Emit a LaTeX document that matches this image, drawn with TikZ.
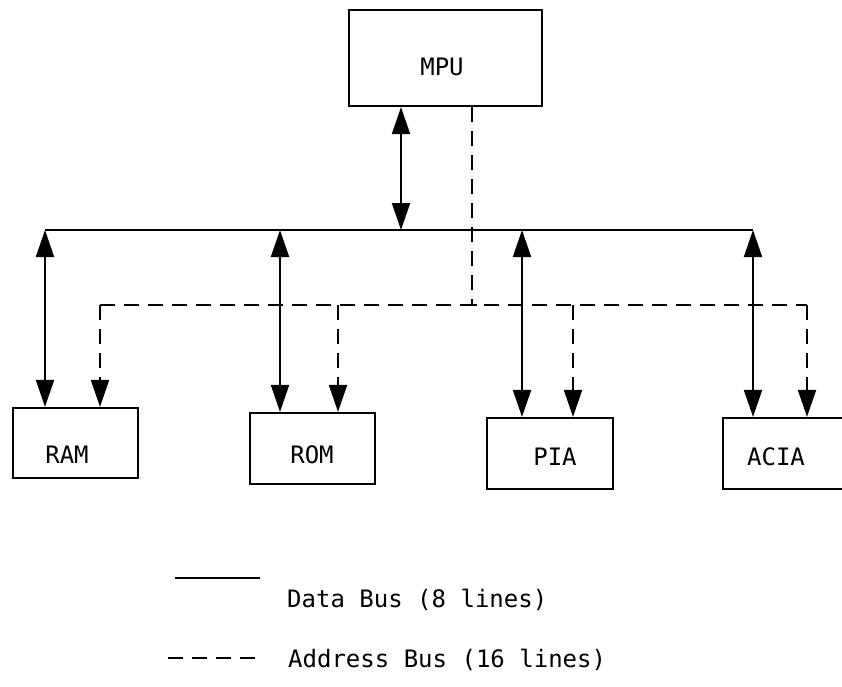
\documentclass[tikz,border=0pt]{standalone}
\usepackage{fontspec}
\setmonofont{DejaVu Sans Mono}
\usetikzlibrary{arrows.meta}
\tikzset{
  box/.style={draw, line width=2.2pt, rectangle, inner sep=0pt},
  lbl/.style={font=\ttfamily\fontsize{24}{28}\selectfont, inner sep=0pt, anchor=center},
  databus/.style={line width=2pt},
  addrbus/.style={line width=2pt, dash pattern=on 15pt off 9pt},
  tip/.style={-{Triangle[length=27pt,width=18pt]}},
  dtip/.style={{Triangle[length=27pt,width=18pt]}-{Triangle[length=27pt,width=18pt]}}
}
\begin{document}
\begin{tikzpicture}[x=1pt,y=-1pt]
\useasboundingbox (0,0) rectangle (842,686);
\clip (0,0) rectangle (842,686);
% boxes
\node[box, minimum width=193pt, minimum height=96pt] (mpu) at (445.5,58) {};
\node[box, minimum width=125pt, minimum height=70pt] (ram) at (75.5,443) {};
\node[box, minimum width=125pt, minimum height=71pt] (rom) at (312.5,448.5) {};
\node[box, minimum width=126pt, minimum height=71pt] (pia) at (550,453.5) {};
\node[box, minimum width=130pt, minimum height=71pt] (acia) at (788,453.5) {};
% labels
\node[lbl] (tmpu) at (442,67) {MPU};
\node[lbl] (tram) at (67,455) {RAM};
\node[lbl] (trom) at (312,455) {ROM};
\node[lbl] (tpia) at (555,457) {PIA};
\node[lbl] (tacia) at (776,457) {ACIA};
% bus coordinates
\coordinate (dbL) at (45,230);
\coordinate (dbR) at (753,230);
\coordinate (dbM) at (401,230);
\coordinate (dbROM) at (280,230);
\coordinate (dbPIA) at (522,230);
\coordinate (abL) at (100,305);
\coordinate (abR) at (807,305);
\coordinate (abJ) at (472,305);
\coordinate (abROM) at (338,305);
\coordinate (abPIA) at (573,305);
% data bus
\draw[databus] (dbL) -- (dbR);
\draw[databus, dtip] (mpu.south -| dbM) -- (dbM);
\draw[databus, dtip] (dbL) -- (ram.north -| dbL);
\draw[databus, dtip] (dbROM) -- (rom.north -| dbROM);
\draw[databus, dtip] (dbPIA) -- (pia.north -| dbPIA);
\draw[databus, dtip] (dbR) -- (acia.north -| dbR);
% address bus
\draw[addrbus] (abL) -- (abR);
\draw[addrbus] (mpu.south -| abJ) -- (abJ);
\draw[line width=2pt] ([xshift=-5pt]abJ) -- ([xshift=5pt]abJ);
\draw[addrbus, tip] (abL) -- (ram.north -| abL);
\draw[addrbus, tip] (abROM) -- (rom.north -| abROM);
\draw[addrbus, tip] (abPIA) -- (pia.north -| abPIA);
\draw[addrbus, tip] (abR) -- (acia.north -| abR);
% legend
\coordinate (l1a) at (175,578);
\coordinate (l1b) at (260,578);
\coordinate (l2a) at (168,658);
\coordinate (l2b) at (258,658);
\draw[databus] (l1a) -- (l1b);
\draw[line width=2pt, dash pattern=on 15pt off 9pt] (l2a) -- (l2b);
\node[lbl, anchor=west] (leg1) at (287,600) {Data Bus (8 lines)};
\node[lbl, anchor=west] (leg2) at (288,660) {Address Bus (16 lines)};
\end{tikzpicture}
\end{document}
